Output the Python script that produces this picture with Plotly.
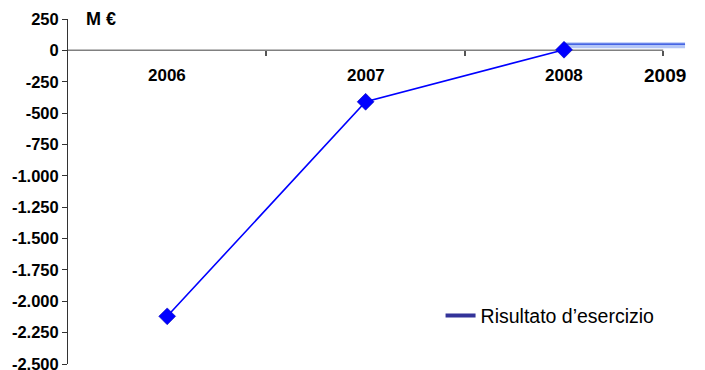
import plotly.graph_objects as go

years = [2006, 2007, 2008]
risultato = [-2120, -410, 5]
extra_label = "2009"
overlay_x = [2008, 2008.61]
overlay_light = [40, 40]
overlay_dark = [50, 50]
y_ticks = list(range(-2500, 251, 250))
series_name = "Risultato d\u2019esercizio"

def fmt(v):
    s = f"{abs(v):,}".replace(",", ".")
    return ("-" if v < 0 else "") + s

x_lo = min(years) - 0.5
x_hi = max(years) + 0.5

fig = go.Figure()
fig.add_trace(go.Scatter(x=overlay_x, y=overlay_light, mode="lines",
                         line=dict(color="#b4c6f7", width=6), showlegend=False, hoverinfo="skip"))
fig.add_trace(go.Scatter(x=overlay_x, y=overlay_dark, mode="lines",
                         line=dict(color="#2244dd", width=1.2), showlegend=False, hoverinfo="skip"))
fig.add_trace(go.Scatter(x=years, y=risultato, mode="lines+markers",
                         line=dict(color="#0000ff", width=1.6),
                         marker=dict(symbol="diamond", size=13, color="#0000ff",
                                     line=dict(color="#0000aa", width=0.5)),
                         showlegend=False, cliponaxis=False))
fig.add_trace(go.Scatter(x=[None], y=[None], mode="lines", name=series_name,
                         line=dict(color="#333399", width=4)))

fig.add_shape(type="line", xref="x", yref="y", x0=x_lo, x1=x_hi, y0=0, y1=0,
              line=dict(color="#808080", width=1.5), layer="below")

for yr in years:
    fig.add_annotation(x=yr, y=0, xref="x", yref="y", text=f"<b>{yr}</b>", showarrow=False,
                       yshift=-25, font=dict(family="Liberation Sans", size=17, color="black"))
fig.add_annotation(x=x_hi, y=0, xref="x", yref="y", text=f"<b>{extra_label}</b>", showarrow=False,
                   yshift=-25, xshift=2, font=dict(family="Liberation Sans", size=19, color="black"))
fig.add_annotation(x=(101 - 68) / 623, y=1.0, xref="paper", yref="paper", text="<b>M \u20ac</b>",
                   showarrow=False, xanchor="center", yanchor="middle",
                   font=dict(family="Liberation Sans", size=18, color="black"))

fig.update_layout(
    width=705, height=370,
    margin=dict(l=68, r=14, t=19, b=6),
    plot_bgcolor="white", paper_bgcolor="white",
    showlegend=True,
    legend=dict(x=0.598, y=0.14, xanchor="left", yanchor="middle",
                font=dict(family="Liberation Sans", size=19.5, color="black"),
                bgcolor="rgba(0,0,0,0)"),
    xaxis=dict(range=[x_lo, 2008.64], showgrid=False, zeroline=False, showline=False,
               anchor="free", position=1 - 250 / 2750, automargin=False,
               tickvals=[2006.5, 2007.5, 2008.5], ticks="outside", ticklen=5,
               tickcolor="#555555", tickwidth=1.5, showticklabels=False),
    yaxis=dict(range=[-2500, 250], showgrid=False, zeroline=False, showline=True,
               linecolor="#333333", linewidth=1, ticks="outside", ticklen=5, automargin=False,
               tickcolor="#333333", tickvals=y_ticks, ticktext=[f"<b>{fmt(v)}</b>" for v in y_ticks],
               tickfont=dict(family="Liberation Sans", size=16.5, color="black"),
               ticklabeloverflow="allow"),
)

fig.write_html("out.html")
